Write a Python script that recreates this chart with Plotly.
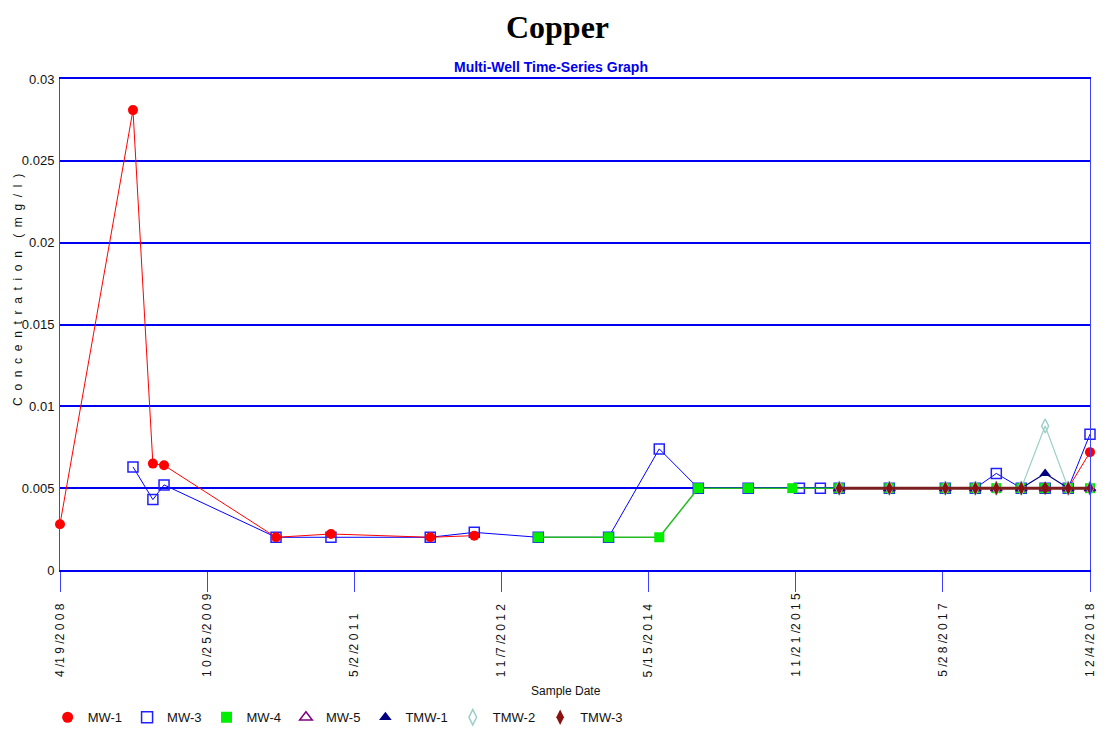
import plotly.graph_objects as go

# ---------------- data ----------------
late_dates = ["2016-05-03", "2016-11-08", "2017-06-07", "2017-09-28", "2017-12-16",
              "2018-03-20", "2018-06-18", "2018-09-13", "2018-12-04"]

mw1_dates = ["2008-04-19", "2009-01-19", "2009-04-04", "2009-05-16", "2010-07-12",
             "2011-02-04", "2012-02-13", "2012-07-28", "2013-03-26"] + late_dates
mw1_vals = [0.0028, 0.0281, 0.0065, 0.0064, 0.0020, 0.0022, 0.0020, 0.0021, None,
            0.005, 0.005, 0.005, 0.005, 0.005, 0.005, 0.005, 0.005, 0.0072]

mw3_dates = ["2009-01-19", "2009-04-04", "2009-05-16", "2010-07-12", "2011-02-04",
             "2012-02-13", "2012-07-28", "2013-03-26", "2013-12-16", "2014-06-25",
             "2014-11-19", "2015-05-26", "2015-12-05", "2016-02-22"] + late_dates
mw3_vals = [0.0063, 0.0043, 0.0052, 0.0020, 0.0020, 0.0020, 0.0023, 0.0020, 0.0020, 0.0074,
            0.005, 0.005, 0.005, 0.005,
            0.005, 0.005, 0.005, 0.005, 0.0059, 0.005, 0.005, 0.005, 0.0083]

mw4_dates = ["2013-03-26", "2013-12-16", "2014-06-25", "2014-11-19", "2015-05-26",
             "2015-11-08"] + late_dates
mw4_vals = [0.002, 0.002, 0.002, 0.005, 0.005, 0.005,
            0.005, 0.005, 0.005, 0.005, 0.005, 0.005, 0.005, 0.005, 0.005]

mw5_dates = late_dates
mw5_vals = [0.005, 0.005, 0.005, 0.005, 0.005, 0.005, 0.005, 0.005, 0.005]

tmw1_dates = late_dates
tmw1_vals = [0.005, 0.005, 0.005, 0.005, 0.005, 0.005, 0.0059, 0.005, 0.005]

tmw2_dates = late_dates
tmw2_vals = [0.005, 0.005, 0.005, 0.005, 0.005, 0.005, 0.0088, 0.005, 0.005]

tmw3_dates = late_dates
tmw3_vals = [0.005, 0.005, 0.005, 0.005, 0.005, 0.005, 0.005, 0.005, 0.005]

x_tick_dates = ["2008-04-19", "2009-10-25", "2011-05-02", "2012-11-07",
                "2014-05-15", "2015-11-21", "2017-05-28", "2018-12-04"]
x_tick_labels = ["4/19/2008", "10/25/2009", "5/2/2011", "11/7/2012",
                 "5/15/2014", "11/21/2015", "5/28/2017", "12/4/2018"]
y_tick_vals = [0, 0.005, 0.01, 0.015, 0.02, 0.025, 0.03]
y_tick_labels = ["0", "0.005", "0.01", "0.015", "0.02", "0.025", "0.03"]

# ---------------- styling ----------------
NARROW = "Liberation Sans Narrow, Arial Narrow, Liberation Sans, Arial, sans-serif"
GRID = "#0000F0"

series = [
    ("MW-3", mw3_dates, mw3_vals, "#0000FF", 1, "square-open", "#2020FF", 2),
    ("MW-1", mw1_dates, mw1_vals, "#FF0000", 1, "circle", "#FF0000", 1),
    ("MW-4", mw4_dates, mw4_vals, "#22BB22", 1.5, "square", "#00EE00", 3),
    ("MW-5", mw5_dates, mw5_vals, "#800080", 1, "triangle-up-open", "#800080", 4),
    ("TMW-1", tmw1_dates, tmw1_vals, "#000080", 1.2, "triangle-up", "#000080", 5),
    ("TMW-2", tmw2_dates, tmw2_vals, "#9CCFC8", 1.2, "diamond-tall-open", "#9CCFC8", 6),
    ("TMW-3", tmw3_dates, tmw3_vals, "#7A1E1E", 3, "diamond-tall", "#8B1010", 7),
]

fig = go.Figure()
for name, d, v, col, lw, sym, mcol, rank in series:
    fig.add_trace(go.Scatter(
        x=d, y=v, mode="lines+markers", name=name, showlegend=False, cliponaxis=False,
        line=dict(color=col, width=lw),
        marker=dict(symbol=sym, size=10, color=mcol,
                    line=dict(color=mcol, width=1.5 if "open" in sym else 0)),
    ))
    fig.add_trace(go.Scatter(
        x=[None], y=[None], mode="markers", name=name, legendrank=rank,
        marker=dict(symbol=sym, size=11, color=mcol,
                    line=dict(color=mcol, width=1.5 if "open" in sym else 0)),
    ))

def spaced(s):
    return " ".join(s).replace("/ ", "/")

for d, lab in zip(x_tick_dates, x_tick_labels):
    fig.add_annotation(x=d, xref="x", y=-0.222, yref="paper", text=spaced(lab),
                       textangle=-90, showarrow=False, xanchor="center", yanchor="bottom",
                       font=dict(family=NARROW, size=12, color="#111111"))

fig.add_annotation(x=0.491, xref="paper", y=-0.246, yref="paper", text="Sample Date",
                   showarrow=False, xanchor="center", yanchor="middle",
                   font=dict(family=NARROW, size=12, color="#111111"))
fig.add_annotation(x=-0.041, xref="paper", y=0.57, yref="paper",
                   text="\u00a0 ".join("Concentration") + "\u00a0 \u00a0 (\u00a0 m\u00a0 g\u00a0 /\u00a0 l\u00a0 )",
                   textangle=-90, showarrow=False, xanchor="center", yanchor="middle",
                   font=dict(family=NARROW, size=12, color="#111111"))
fig.add_annotation(x=0.477, xref="paper", y=1.025, yref="paper",
                   text="<b>Multi-Well Time-Series Graph</b>", showarrow=False,
                   xanchor="center", yanchor="middle",
                   font=dict(family=NARROW, size=14, color="#0000EE"))

fig.update_layout(
    width=1099, height=721,
    margin=dict(l=52, r=17, t=71, b=159, autoexpand=False),
    paper_bgcolor="white", plot_bgcolor="white",
    title=dict(text="<b>Copper</b>", x=0.5, xanchor="center", y=0.974, yanchor="middle",
               font=dict(family="Liberation Serif, Times New Roman, serif", size=32, color="black")),
    showlegend=True,
    legend=dict(orientation="h", x=-0.012, y=-0.30, xanchor="left", yanchor="middle",
                font=dict(family=NARROW, size=13, color="#111111"),
                itemwidth=30, tracegroupgap=0, bgcolor="rgba(0,0,0,0)"),
    xaxis=dict(type="date", range=["2008-04-19", "2018-12-04"],
               tickvals=x_tick_dates, showticklabels=False,
               ticks="outside", ticklen=20, tickcolor="#4040FF", tickwidth=1,
               showgrid=False, zeroline=False,
               showline=True, mirror=True, linecolor=GRID, linewidth=2),
    yaxis=dict(range=[0, 0.03], tickvals=y_tick_vals, ticktext=y_tick_labels,
               showgrid=True, gridcolor=GRID, gridwidth=2,
               zeroline=True, zerolinecolor=GRID, zerolinewidth=2.5,
               showline=True, linecolor="#4040FF", linewidth=1, mirror=True,
               ticks="", ticklabelstandoff=2,
               tickfont=dict(family=NARROW, size=13, color="#111111")),
)

fig.write_html("out.html")
